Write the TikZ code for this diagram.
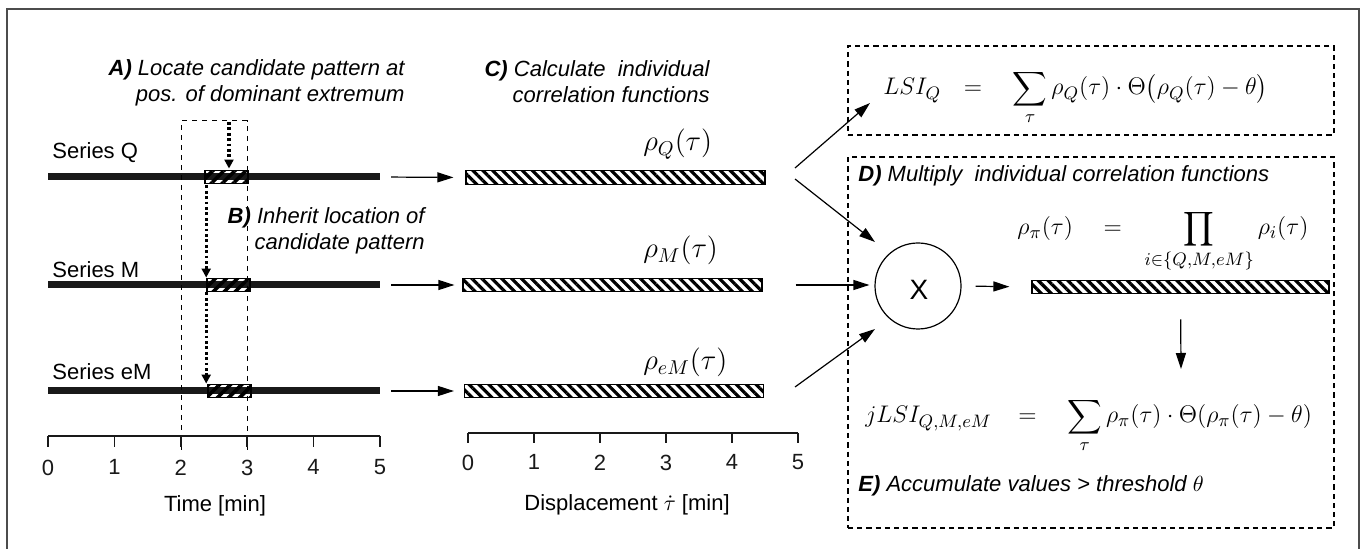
\documentclass[tikz,border=0pt]{standalone}
\usepackage{amsmath}
\usepackage{fontspec}
\setsansfont{Liberation Sans}
\usetikzlibrary{arrows.meta,calc,patterns.meta}
\definecolor{FrameClr}{rgb}{0.3,0.3,0.3}
\definecolor{InkClr}{rgb}{0.1,0.1,0.1}

\tikzset{
  txt/.style={inner sep=0pt,font=\sffamily\fontsize{11}{13}\selectfont},
  note/.style={inner sep=0pt,align=right,font=\sffamily\itshape\fontsize{11}{13}\selectfont},
  fml/.style={inner sep=0pt,font=\fontsize{14}{16}\selectfont},
  eqn/.style={inner sep=0pt,anchor=base west,font=\fontsize{13}{16}\selectfont},
  outline/.style={line width=0.8pt,color=FrameClr},
  series/.style={line width=3.5pt,color=InkClr},
  axis/.style={line width=0.8pt,color=InkClr},
  flow/.style={line width=0.6pt,-{Triangle[length=8pt,width=5pt]}},
  jump/.style={line width=1.6pt,dash pattern=on 1.4pt off 1.3pt,-{Triangle[length=4.5pt,width=4.5pt]}},
  window/.style={line width=0.5pt,dash pattern=on 2.6pt off 2.4pt},
  panel/.style={draw,line width=0.7pt,dash pattern=on 2.6pt off 2pt,minimum width=243pt},
  cand/.style={draw,line width=0.8pt,minimum width=21.5pt,minimum height=6.5pt,
    pattern={Lines[angle=45,distance=3.9pt,line width=1.8pt]}},
  corr/.style={draw,line width=0.6pt,minimum width=149.5pt,minimum height=4.5pt,
    pattern={Lines[angle=-45,distance=3.5pt,line width=1.6pt]}},
}

\begin{document}
\begin{tikzpicture}[x=0.5pt,y=-0.5pt]
\useasboundingbox (0,0) rectangle (1364,549);

\draw[outline] (7,549) -- (7,9) -- (1359,9) -- (1359,549);

% time series
\coordinate (Q0) at (48,177);  \coordinate (Q5) at (380,177);
\coordinate (M0) at (48,285);  \coordinate (M5) at (380,285);
\coordinate (E0) at (48,391);  \coordinate (E5) at (380,391);

\draw[series] (Q0) -- (Q5);
\draw[series] (M0) -- (M5);
\draw[series] (E0) -- (E5);

\node[txt,anchor=base west] (serQ) at (52,159) {Series Q};
\node[txt,anchor=base west] (serM) at (52,278) {Series M};
\node[txt,anchor=base west] (serE) at (52,380) {Series eM};

\draw[window] (181,450) -- (181,121) -- (247,121) -- (247,450);

\node[cand] (candQ) at (226.5,177) {};
\node[cand] (candM) at (228.5,285) {};
\node[cand] (candE) at (229.5,391) {};

\coordinate (drop) at (229,122);
\draw[jump] (drop) -- (drop |- candQ.north);
\draw[jump] (candQ.south -| candM.west) -- (candM.north west);
\draw[jump] (candM.south west) -- (candM.south west |- candE.north);

\node[note,anchor=north east] (stepA) at (405,59)
  {\textbf{A)} Locate candidate pattern at\\pos. of dominant extremum};
\node[note,anchor=north east] (stepB) at (425,207)
  {\textbf{B)} Inherit location of\\candidate pattern};

% time axis
\draw[axis] (48,436) -- (380,436);
\foreach \t in {0,...,5}
  \draw[axis] (48+66.4*\t,436) -- (48+66.4*\t,447) node[txt,below=6pt] {\t};
\node[txt] (timelbl) at (215,506) {Time [min]};

% correlation functions
\node[corr] (rhoQbar) at (615.5,177.5) {};
\node[corr] (rhoMbar) at (612.5,285) {};
\node[corr] (rhoEbar) at (614,391) {};

\node[fml,anchor=base west] (rhoQ) at (643,151) {$\rho_Q(\tau)$};
\node[fml,anchor=base west] (rhoM) at (643,258) {$\rho_M(\tau)$};
\node[fml,anchor=base west] (rhoE) at (643,370) {$\rho_{eM}(\tau)$};

\draw[flow,shorten <=5.5pt,shorten >=5.5pt] (Q5) -- (rhoQbar.west);
\draw[flow,shorten <=5.5pt,shorten >=4pt] (M5) -- (rhoMbar.west);
\draw[flow,shorten <=5.5pt,shorten >=5pt] (E5) -- (rhoEbar.west);

\node[note,anchor=north east] (stepC) at (710,60)
  {\textbf{C)} Calculate~ individual\\correlation functions};

% displacement axis
\draw[axis] (468,433) -- (798,433);
\foreach \t in {0,...,5}
  \draw[axis] (468+66*\t,433) -- (468+66*\t,443) node[txt,below=5.5pt] {\t};
\node[txt] (displbl) at (627,505) {Displacement $\dot{\tau}$ [min]};

% panels
\node[panel,minimum height=44.5pt] (lsibox) at (1091,90.5) {};
\node[panel,minimum height=185.5pt] (jointbox) at (1091,342.5) {};

\node[eqn] (lsi) at (883,95)
  {$\displaystyle LSI_Q\hspace{8pt}=\hspace{12pt}\sum_{\tau}\rho_Q(\tau)\cdot\Theta\big(\rho_Q(\tau)-\theta\big)$};

\node[txt,anchor=base west,font=\sffamily\itshape\fontsize{11}{13}\selectfont] (stepD) at (858,182)
  {\textbf{D)} Multiply~ individual correlation functions};

\node[eqn] (prod) at (1017,235)
  {$\displaystyle \rho_\pi(\tau)\hspace{12pt}=\hspace{8pt}\prod_{i\in\{Q,M,eM\}}\rho_i(\tau)$};

\node[circle,draw,line width=0.6pt,minimum size=43pt,inner sep=0pt] (mult) at (918,286) {};
\node[txt,font=\sffamily\fontsize{14}{16}\selectfont] (multx) at (919,290) {X};

\node[corr,minimum width=148.5pt] (pibar) at (1180.5,287) {};

\node[eqn] (jlsi) at (865,423)
  {$\displaystyle jLSI_{Q,M,eM}\hspace{10pt}=\hspace{12pt}\sum_{\tau}\rho_\pi(\tau)\cdot\Theta(\rho_\pi(\tau)-\theta)$};

\node[txt,anchor=base west,font=\sffamily\itshape\fontsize{11}{13}\selectfont] (stepE) at (858,492)
  {\textbf{E)} Accumulate values > threshold $\theta$};

% flow to the right part
\coordinate (forkup) at (795,168);
\coordinate (forkdn) at (795,179);
\coordinate (lsiin) at (870,103);
\coordinate (multin) at (875,242);
\coordinate (Estart) at (795,387);
\coordinate (multlow) at (875,329);
\coordinate (sumtop) at (1181,369);

\draw[flow] (forkup) -- (lsiin);
\draw[flow] (forkdn) -- (multin);
\draw[flow,shorten <=16.5pt,shorten >=2.5pt] (rhoMbar.east) -- (rhoMbar.east -| mult.west);
\draw[flow] (Estart) -- (multlow);
\draw[flow,shorten <=7pt,shorten >=11pt] (mult.east) -- (pibar.west);
\draw[flow,shorten <=12.5pt] (pibar.south) -- (sumtop);

\end{tikzpicture}
\end{document}
